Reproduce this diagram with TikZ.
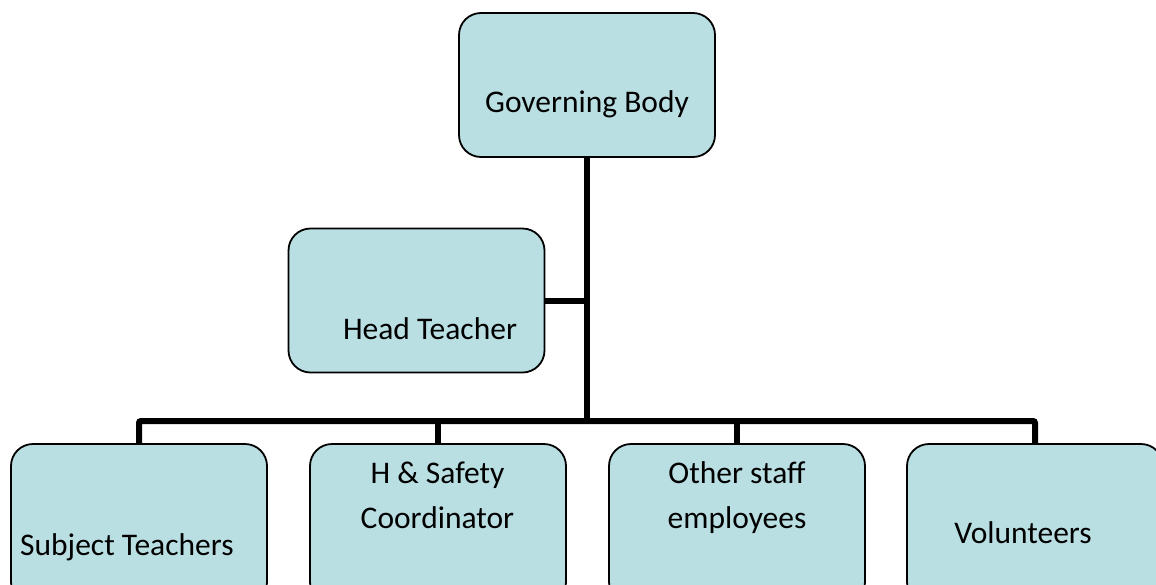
\documentclass[tikz,border=0pt]{standalone}
\usepackage{fontspec}
\setmainfont{Carlito}
\definecolor{boxfill}{HTML}{B9DFE3}
\begin{document}
\begin{tikzpicture}[x=1pt,y=-1pt,
  box/.style={draw=black, line width=1.8pt, fill=boxfill, rounded corners=22pt,
    minimum width=256pt, minimum height=144pt, inner sep=0pt},
  conn/.style={draw=black, line width=6pt},
  lbl/.style={font=\fontsize{31.5}{45}\selectfont, anchor=base, inner sep=0pt}]
\useasboundingbox (0,0) rectangle (1156,584);
\clip (0,0) rectangle (1156,584);
% boxes
\node[box] (gb) at (587,85) {};
\node[box] (ht) at (416.5,300.5) {};
\node[box, minimum height=160pt] (st) at (139,524) {};
\node[box, minimum height=160pt] (hs) at (438,524) {};
\node[box, minimum height=160pt] (os) at (737,524) {};
\node[box, minimum height=160pt] (vo) at (1035,524) {};
% junctions
\coordinate (j) at (587,421);
\coordinate (hj) at (587,300.5);
% connectors
\draw[conn] (gb.south) -- (j);
\draw[conn] (ht.east) -- (hj);
\draw[conn, rounded corners=2pt] (st.north) -- (st.north |- j) -- (vo.north |- j) -- (vo.north);
\draw[conn] (hs.north) -- (hs.north |- j);
\draw[conn] (os.north) -- (os.north |- j);
% labels
\node[lbl] (tgb) at (587,112) {Governing Body};
\node[lbl] (tht) at (430,339) {Head Teacher};
\node[lbl, anchor=base west] (tst) at (20,555) {Subject Teachers};
\node[lbl] (ths1) at (437.5,483) {H \& Safety};
\node[lbl] (ths2) at (437.5,528) {Coordinator};
\node[lbl] (tos1) at (737,483) {Other staff};
\node[lbl] (tos2) at (737,528) {employees};
\node[lbl] (tvo) at (1023,543) {Volunteers};
\end{tikzpicture}
\end{document}
